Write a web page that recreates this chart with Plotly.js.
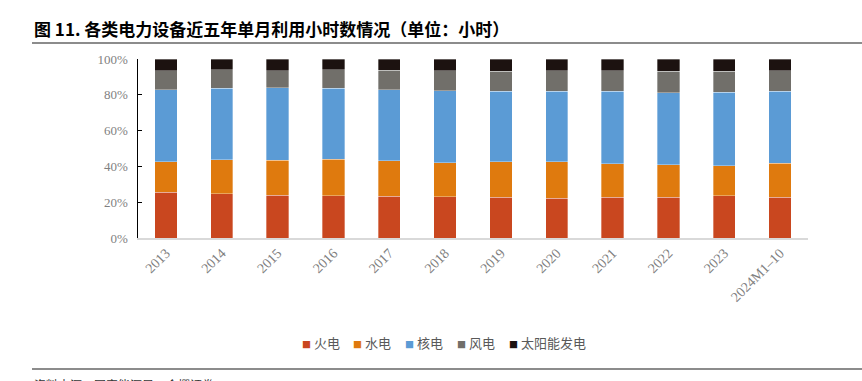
<!DOCTYPE html>
<html>
<head>
<meta charset="utf-8">
<script src="https://cdn.plot.ly/plotly-3.0.1.min.js"></script>
<style>
html,body{margin:0;padding:0;background:#fff;}
#chart{width:862px;height:381px;}
</style>
</head>
<body>
<div id="chart"></div>
<script>
// Categories
var categories = ["2013","2014","2015","2016","2017","2018","2019","2020","2021","2022","2023","2024M1–10"];
// Shares of utilization hours (%)
var fireShare    = [25.5, 24.6, 23.8, 23.5, 23.2, 23.1, 22.7, 22.1, 22.7, 22.7, 23.5, 22.7];
var hydroShare   = [17.1, 19.0, 19.6, 20.6, 20.0, 19.0, 19.8, 20.4, 18.8, 18.2, 16.9, 19.2];
var nuclearShare = [40.2, 40.2, 40.6, 39.7, 39.5, 40.2, 39.6, 39.6, 40.6, 40.3, 40.9, 40.2];
var windShare    = [10.7, 10.1,  9.5, 10.1, 10.9, 11.2, 11.0, 11.4, 11.4, 11.9, 11.8, 11.4];
var solarShare   = [ 6.5,  6.1,  6.5,  6.1,  6.4,  6.5,  6.9,  6.5,  6.5,  6.9,  6.9,  6.5];
var seriesNames  = ["火电","水电","核电","风电","太阳能发电"];
var yTickVals    = [0, 20, 40, 60, 80, 100];
var yTickText    = ["0%","20%","40%","60%","80%","100%"];

var colors = ["#C9471F","#DF7A0E","#5B9BD5","#716F6A","#1C1210"];
var seriesData = [fireShare, hydroShare, nuclearShare, windShare, solarShare];

var traces = seriesData.map(function(vals, i){
  return {
    type: "bar",
    name: seriesNames[i],
    x: categories,
    y: vals,
    marker: {color: colors[i], line: {color: "rgba(255,255,255,0.55)", width: 0.6}},
    showlegend: false,
    hoverinfo: "x+y+name"
  };
});

// layout geometry (pixels)
var L = 138, R = 54, T = 59, B = 143;
var W = 862 - L - R, H = 381 - T - B;
function px(x){ return (x - L) / W; }
function py(y){ return (381 - B - y) / H; }

var annotations = [];
annotations.push({
  xref: "paper", yref: "paper", x: px(32), y: py(28), xanchor: "left", yanchor: "middle",
  text: "<b>图 11. 各类电力设备近五年单月利用小时数情况（单位：小时）</b>",
  showarrow: false, font: {family: "Noto Sans CJK SC", size: 17, color: "#000"}
});
annotations.push({
  xref: "paper", yref: "paper", x: px(32), y: py(384), xanchor: "left", yanchor: "middle",
  text: "资料来源：国家能源局，合撰证券",
  showarrow: false, font: {family: "Noto Sans CJK SC", size: 12, color: "#333"}
});
var legX = [300, 351, 403, 455, 507];
seriesNames.forEach(function(n, i){
  annotations.push({
    xref: "paper", yref: "paper", x: px(legX[i]), y: py(342), xanchor: "left", yanchor: "middle",
    text: "<span style='color:" + colors[i] + ";font-size:9px'>■</span> " + n,
    showarrow: false, font: {family: "Noto Sans CJK SC", size: 13, color: "#595959"}
  });
});

var layout = {
  width: 862, height: 381,
  margin: {l: L, r: R, t: T, b: B, pad: 0},
  paper_bgcolor: "#fff", plot_bgcolor: "#fff",
  barmode: "stack", barnorm: "percent", bargap: 0.6,
  showlegend: false,
  xaxis: {
    type: "category", tickangle: -45, showgrid: false, zeroline: false,
    showline: true, linecolor: "#D9D9D9", linewidth: 1.5, ticks: "",
    tickfont: {family: "Liberation Serif", size: 14, color: "#7F7F7F"}
  },
  yaxis: {
    range: [0, 100], tickvals: yTickVals, ticktext: yTickText,
    showgrid: false, zeroline: false, showline: true, linecolor: "#000", linewidth: 1.5,
    ticks: "inside", ticklen: 4, tickcolor: "#000", tickwidth: 1,
    ticklabelstandoff: 6,
    tickfont: {family: "Liberation Serif", size: 13, color: "#7F7F7F"}
  },
  annotations: annotations,
  shapes: [
    {type: "line", xref: "paper", yref: "paper", x0: px(32), x1: px(862), y0: py(43), y1: py(43), line: {color: "#8C8C8C", width: 2}},
    {type: "line", xref: "paper", yref: "paper", x0: px(32), x1: px(862), y0: py(369), y1: py(369), line: {color: "#8C8C8C", width: 2}}
  ]
};

Plotly.newPlot("chart", traces, layout, {displayModeBar: false, staticPlot: true});
</script>
</body>
</html>
